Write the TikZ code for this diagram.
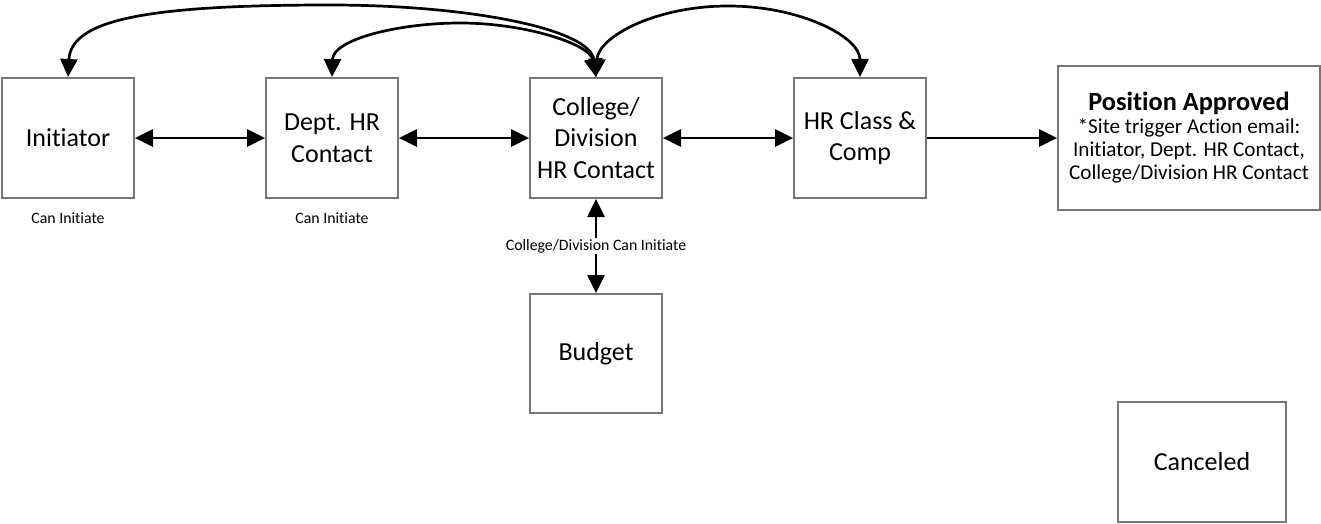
\documentclass[tikz,border=0pt]{standalone}
\usepackage{fontspec}
\setmainfont{Carlito}[Ligatures=NoCommon]
\usetikzlibrary{arrows.meta}
\definecolor{boxgray}{HTML}{777777}
\begin{document}
\begin{tikzpicture}[x=1pt,y=1pt,
  box/.style={draw=boxgray, line width=2pt, minimum width=132pt, minimum height=120pt, align=center, inner sep=2pt, font=\fontsize{26}{31.7}\selectfont},
  lbl/.style={font=\fontsize{15.8}{19}\selectfont, inner sep=1pt},
  conn/.style={line width=2.7pt, {Triangle[length=18pt,width=17pt]}-{Triangle[length=18pt,width=17pt]}},
  oneway/.style={line width=2.7pt, -{Triangle[length=18pt,width=17pt]}}]
\useasboundingbox (0,0) rectangle (1321,-524);
\node[box] (init) at (68,-138) {Initiator};
\node[box] (dept) at (332,-138) {Dept. HR\\Contact};
\node[box] (col) at (596,-138) {College/\\Division\\HR Contact};
\node[box] (hr) at (860,-138) {HR Class \&\\Comp};
\node[box, minimum width=262pt, minimum height=144pt, font=\fontsize{21.2}{23}\selectfont] (pos) at (1189,-138)
  {{\bfseries\fontsize{26.3}{23}\selectfont Position Approved}\\*Site trigger Action email:\\Initiator, Dept. HR Contact,\\College/Division HR Contact};
\node[box, minimum height=119pt] (bud) at (596,-353.5) {Budget};
\node[box, minimum width=168pt] (can) at (1202,-462) {Canceled};
\node[lbl] (ci1) at (68,-218) {Can Initiate};
\node[lbl] (ci2) at (332,-218) {Can Initiate};
\draw[conn] (init.east) -- (dept.west);
\draw[conn] (dept.east) -- (col.west);
\draw[conn] (col.east) -- (hr.west);
\draw[oneway] (hr.east) -- (pos.west);
\draw[conn] (col.south) -- node[lbl, fill=white] (cdlbl) {College/Division Can Initiate} (bud.north);
\coordinate (pA) at (330,-5);
\coordinate (pB) at (460,-23);
\coordinate (pC) at (728,-6);
\draw[conn] (init.north) .. controls +(3,58) and +(-180,0) .. (pA) .. controls +(140,0) and +(-6,48) .. (col.north);
\draw[conn] (dept.north) .. controls +(1,38) and +(-60,0) .. (pB) .. controls +(65,0) and +(-6,33) .. (col.north);
\draw[conn] (col.north) .. controls +(2,40) and +(-73,0) .. (pC) .. controls +(73,0) and +(0,40) .. (hr.north);
\end{tikzpicture}
\end{document}
